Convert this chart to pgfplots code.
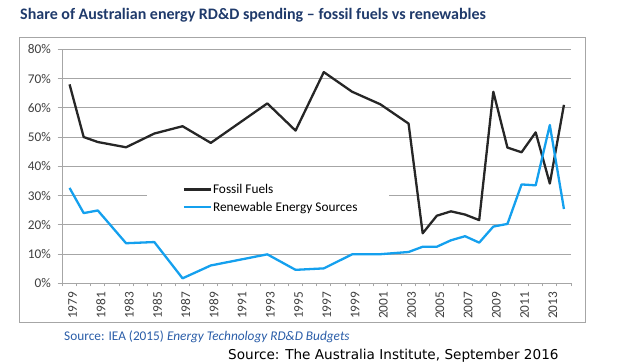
\documentclass[border=0pt]{standalone}
\usepackage{pgfplots}
\pgfplotsset{compat=1.18}
\usepackage{fontspec}
\setmainfont{Carlito}
\newfontfamily\dejavu{DejaVu Sans}
\definecolor{titlenavy}{HTML}{1F3A6B}
\definecolor{srcblue}{HTML}{2A5DA8}
\definecolor{fossil}{HTML}{262626}
\definecolor{renew}{HTML}{14A0EE}
\definecolor{gridgray}{HTML}{A6A6A6}
\definecolor{ticktext}{HTML}{404040}
\begin{document}
\begin{tikzpicture}
\path[use as bounding box] (0pt,0pt) rectangle (617pt,363pt);
\draw[gridgray, line width=1pt] (19pt,40.5pt) rectangle (585.7pt,325.7pt);
\node[anchor=base west, inner sep=0pt, text=titlenavy, font=\fontsize{16}{19}\selectfont\bfseries] at (20pt,343pt) {Share of Australian energy RD\&D spending -- fossil fuels vs renewables};
\begin{axis}[
  at={(62.5pt,79.7pt)}, anchor=south west,
  scale only axis, width=508.5pt, height=234pt,
  xmin=1978.5, xmax=2014.5, ymin=0, ymax=80,
  axis x line*=bottom, axis y line*=left,
  axis line style={-, draw=gridgray, line width=0.8pt},
  ytick={0,10,...,80},
  yticklabels={0\%,10\%,20\%,30\%,40\%,50\%,60\%,70\%,80\%},
  xtick={1979,1981,...,2013},
  xticklabels={1979,1981,1983,1985,1987,1989,1991,1993,1995,1997,1999,2001,2003,2005,2007,2009,2011,2013},
  minor xtick={1978.5,1979.5,...,2014.5},
  tick align=outside,
  xtick style={draw=none},
  minor x tick style={draw=gridgray, line width=0.8pt},
  minor tick length=3pt,
  ytick style={draw=gridgray, line width=0.8pt},
  major tick length=5pt,
  ymajorgrids, grid style={gridgray, line width=0.8pt},
  tick label style={font=\fontsize{13.3}{15}\selectfont, text=ticktext},
  yticklabel style={anchor=east, xshift=-3pt},
  xticklabel style={rotate=90, anchor=east, yshift=-3pt},
  legend style={at={(axis cs:1987.0,34.3)}, anchor=north west, draw=none, fill=none,
    font=\fontsize{13.3}{15}\selectfont, inner xsep=0pt, inner ysep=0pt, row sep=5pt,
    nodes={inner sep=1pt}},
  legend cell align=left,
  legend image code/.code={\draw[#1] (0pt,0pt) -- (27pt,0pt);},
  clip=false,
]
\fill[white] (axis cs:1984.5,39.4) rectangle (axis cs:2001.6,20.6);
\addplot[fossil, line width=2.3pt, line join=round] coordinates {
(1979,68.0) (1980,50.0) (1981,48.3) (1983,46.5) (1985,51.2) (1987,53.7) (1989,48.0)
(1993,61.5) (1995,52.2) (1997,72.2) (1999,65.5) (2001,61.2) (2003,54.6) (2004,17.1)
(2005,23.1) (2006,24.6) (2007,23.5) (2008,21.6) (2009,65.5) (2010,46.4) (2011,44.8)
(2012,51.6) (2013,34.1) (2014,61.0)};
\addlegendentry{Fossil Fuels}
\addplot[renew, line width=2.3pt, line join=round] coordinates {
(1979,32.6) (1980,24.0) (1981,24.9) (1983,13.7) (1985,14.1) (1987,1.7) (1989,6.1)
(1993,9.9) (1995,4.6) (1997,5.1) (1999,9.9) (2001,9.95) (2003,10.7) (2004,12.5)
(2005,12.5) (2006,14.7) (2007,16.1) (2008,13.9) (2009,19.4) (2010,20.3) (2011,33.8)
(2012,33.5) (2013,54.1) (2014,25.4)};
\addlegendentry{Renewable Energy Sources}
\end{axis}
\node[anchor=base west, inner sep=0pt, text=srcblue, font=\fontsize{13.3}{15}\selectfont] at (64pt,22pt) {Source: IEA (2015) \textit{Energy Technology RD\&D Budgets}};
\node[anchor=base west, inner sep=0pt, font=\dejavu\fontsize{13.6}{15}\selectfont] at (228pt,3pt) {Source: The Australia Institute, September 2016};
\end{tikzpicture}
\end{document}
